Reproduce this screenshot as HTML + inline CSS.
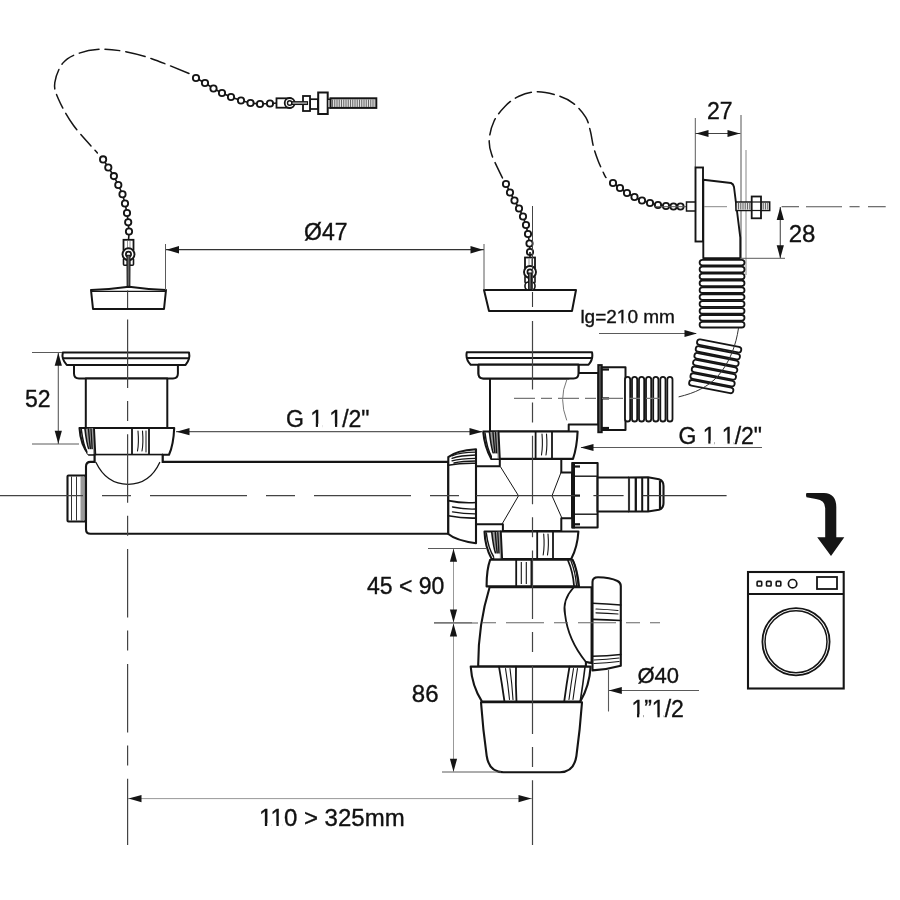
<!DOCTYPE html>
<html><head><meta charset="utf-8"><style>
html,body{margin:0;padding:0;background:#fff;}
svg{display:block;will-change:transform;}
text{font-family:"Liberation Sans",sans-serif;fill:#111;stroke:#111;stroke-width:0.35px;}
</style></head><body>
<svg width="900" height="900" viewBox="0 0 900 900">
<rect width="900" height="900" fill="#fff"/>
<path d="M189.0,73.5 C182.8,71.0 162.4,62.4 151.7,58.7 C141.0,55.1 133.3,53.2 125.0,51.6 C116.7,50.0 109.6,48.9 101.9,49.2 C94.2,49.5 85.3,51.0 78.8,53.3 C72.3,55.6 66.8,58.2 62.8,63.1 C58.8,68.0 55.5,76.8 54.8,82.7 C54.0,88.6 55.2,91.6 58.3,98.7 C61.4,105.8 66.9,116.3 73.4,125.3 C79.9,134.3 93.4,148.3 97.4,152.9" fill="none" stroke="#151515" stroke-width="1.5" stroke-linejoin="round" stroke-linecap="round" stroke-dasharray="20,6,15,6" stroke-linecap="butt"/>
<path d="M196.0,78.0 L205.0,83.0 L213.5,88.5 L222.0,93.0 L231.0,97.0 L241.0,100.5 L250.5,103.0 L260.0,104.0 L270.0,103.5" fill="none" stroke="#151515" stroke-width="1.6"/>
<circle cx="196.0" cy="78.0" r="3.15" fill="#fff" stroke="#151515" stroke-width="1.85"/>
<circle cx="205.0" cy="83.0" r="3.15" fill="#fff" stroke="#151515" stroke-width="1.85"/>
<circle cx="213.5" cy="88.5" r="3.15" fill="#fff" stroke="#151515" stroke-width="1.85"/>
<circle cx="222.0" cy="93.0" r="3.15" fill="#fff" stroke="#151515" stroke-width="1.85"/>
<circle cx="231.0" cy="97.0" r="3.15" fill="#fff" stroke="#151515" stroke-width="1.85"/>
<circle cx="241.0" cy="100.5" r="3.15" fill="#fff" stroke="#151515" stroke-width="1.85"/>
<circle cx="250.5" cy="103.0" r="3.15" fill="#fff" stroke="#151515" stroke-width="1.85"/>
<circle cx="260.0" cy="104.0" r="3.15" fill="#fff" stroke="#151515" stroke-width="1.85"/>
<circle cx="270.0" cy="103.5" r="3.15" fill="#fff" stroke="#151515" stroke-width="1.85"/>
<path d="M103.1,159.4 L108.3,167.5 L113.9,176.1 L118.3,185.0 L122.5,194.2 L125.0,203.5 L127.0,213.0 L128.2,222.3 L129.0,231.5" fill="none" stroke="#151515" stroke-width="1.6"/>
<circle cx="103.1" cy="159.4" r="3.15" fill="#fff" stroke="#151515" stroke-width="1.85"/>
<circle cx="108.3" cy="167.5" r="3.15" fill="#fff" stroke="#151515" stroke-width="1.85"/>
<circle cx="113.9" cy="176.1" r="3.15" fill="#fff" stroke="#151515" stroke-width="1.85"/>
<circle cx="118.3" cy="185.0" r="3.15" fill="#fff" stroke="#151515" stroke-width="1.85"/>
<circle cx="122.5" cy="194.2" r="3.15" fill="#fff" stroke="#151515" stroke-width="1.85"/>
<circle cx="125.0" cy="203.5" r="3.15" fill="#fff" stroke="#151515" stroke-width="1.85"/>
<circle cx="127.0" cy="213.0" r="3.15" fill="#fff" stroke="#151515" stroke-width="1.85"/>
<circle cx="128.2" cy="222.3" r="3.15" fill="#fff" stroke="#151515" stroke-width="1.85"/>
<circle cx="129.0" cy="231.5" r="3.15" fill="#fff" stroke="#151515" stroke-width="1.85"/>
<line x1="272" y1="103.5" x2="277" y2="103" stroke="#151515" stroke-width="1.6"/>
<rect x="276.5" y="98.3" width="14" height="9.4" fill="#fff" stroke="#151515" stroke-width="1.8"/>
<circle cx="289.7" cy="103" r="5" fill="#fff" stroke="#151515" stroke-width="1.8"/>
<circle cx="289.7" cy="103" r="2.2" fill="#fff" stroke="#151515" stroke-width="1.4"/>
<rect x="310" y="99.2" width="8" height="9.8" fill="#fff" stroke="#151515" stroke-width="1.7"/>
<rect x="303" y="96" width="7" height="15" fill="#fff" stroke="#151515" stroke-width="1.8"/>
<rect x="292" y="101.7" width="15.5" height="2.8" fill="#999" stroke="#151515" stroke-width="1.1"/>
<rect x="318.2" y="92.5" width="9.5" height="21.5" fill="#fff" stroke="#151515" stroke-width="2"/>
<rect x="327.7" y="99.3" width="3" height="8.6" fill="#fff" stroke="#151515" stroke-width="1.4"/>
<rect x="330.5" y="98.3" width="45.8" height="9.6" fill="#e0e0e0" stroke="#151515" stroke-width="2"/>
<line x1="332.50" y1="99.5" x2="332.50" y2="107" stroke="#666" stroke-width="1.0"/>
<line x1="334.75" y1="99.5" x2="334.75" y2="107" stroke="#666" stroke-width="1.0"/>
<line x1="337.00" y1="99.5" x2="337.00" y2="107" stroke="#666" stroke-width="1.0"/>
<line x1="339.25" y1="99.5" x2="339.25" y2="107" stroke="#666" stroke-width="1.0"/>
<line x1="341.50" y1="99.5" x2="341.50" y2="107" stroke="#666" stroke-width="1.0"/>
<line x1="343.75" y1="99.5" x2="343.75" y2="107" stroke="#666" stroke-width="1.0"/>
<line x1="346.00" y1="99.5" x2="346.00" y2="107" stroke="#666" stroke-width="1.0"/>
<line x1="348.25" y1="99.5" x2="348.25" y2="107" stroke="#666" stroke-width="1.0"/>
<line x1="350.50" y1="99.5" x2="350.50" y2="107" stroke="#666" stroke-width="1.0"/>
<line x1="352.75" y1="99.5" x2="352.75" y2="107" stroke="#666" stroke-width="1.0"/>
<line x1="355.00" y1="99.5" x2="355.00" y2="107" stroke="#666" stroke-width="1.0"/>
<line x1="357.25" y1="99.5" x2="357.25" y2="107" stroke="#666" stroke-width="1.0"/>
<line x1="359.50" y1="99.5" x2="359.50" y2="107" stroke="#666" stroke-width="1.0"/>
<line x1="361.75" y1="99.5" x2="361.75" y2="107" stroke="#666" stroke-width="1.0"/>
<line x1="364.00" y1="99.5" x2="364.00" y2="107" stroke="#666" stroke-width="1.0"/>
<line x1="366.25" y1="99.5" x2="366.25" y2="107" stroke="#666" stroke-width="1.0"/>
<line x1="368.50" y1="99.5" x2="368.50" y2="107" stroke="#666" stroke-width="1.0"/>
<line x1="370.75" y1="99.5" x2="370.75" y2="107" stroke="#666" stroke-width="1.0"/>
<line x1="373.00" y1="99.5" x2="373.00" y2="107" stroke="#666" stroke-width="1.0"/>
<line x1="375.25" y1="99.5" x2="375.25" y2="107" stroke="#666" stroke-width="1.0"/>
<line x1="129" y1="234" x2="128.5" y2="240" stroke="#151515" stroke-width="1.6"/>
<rect x="123.5" y="239.8" width="10" height="10" fill="#fff" stroke="#151515" stroke-width="1.8"/>
<line x1="127.5" y1="240.8" x2="127.5" y2="248.8" stroke="#777" stroke-width="0.8"/>
<line x1="130.0" y1="240.8" x2="130.0" y2="248.8" stroke="#777" stroke-width="0.8"/>
<rect x="123.5" y="258.3" width="4" height="7" rx="1" fill="#fff" stroke="#151515" stroke-width="1.6"/>
<rect x="129.5" y="258.3" width="4" height="7" rx="1" fill="#fff" stroke="#151515" stroke-width="1.6"/>
<circle cx="128.5" cy="254.3" r="6" fill="#fff" stroke="#151515" stroke-width="1.9"/>
<circle cx="128.5" cy="254.3" r="2.6" fill="#fff" stroke="#151515" stroke-width="1.7"/>
<path d="M127.0,255.3 L130.0,255.3 L129.8,287.5 L127.2,287.5 Z" fill="#666" stroke="#151515" stroke-width="1.1"/>
<path d="M91,290 Q110,289.5 129,286.8 Q148,289.5 166,290 L164,309 L93,309 Z" fill="#fff" stroke="#151515" stroke-width="2" stroke-linejoin="round"/>
<line x1="91" y1="291.3" x2="166" y2="291.3" stroke="#151515" stroke-width="1.3"/>
<path d="M502.5,178.0 C500.7,174.1 493.9,161.1 491.7,154.6 C489.5,148.1 488.9,144.7 489.3,139.1 C489.7,133.5 491.4,126.7 494.0,121.2 C496.6,115.8 500.8,110.6 504.9,106.4 C509.0,102.2 513.5,98.8 518.9,96.3 C524.3,93.8 531.0,91.8 537.5,91.7 C544.0,91.6 551.8,93.7 557.8,95.6 C563.8,97.5 568.6,99.7 573.3,103.3 C578.0,106.9 582.9,112.6 585.8,117.3 C588.6,122.0 589.1,126.4 590.4,131.3 C591.7,136.2 592.2,142.0 593.5,146.9 C594.8,151.8 596.4,156.2 598.2,160.9 C600.0,165.6 603.1,172.1 604.4,174.9 C605.7,177.7 605.7,177.1 606.0,177.5" fill="none" stroke="#151515" stroke-width="1.5" stroke-linejoin="round" stroke-linecap="round" stroke-dasharray="17,6" stroke-linecap="butt"/>
<path d="M506.0,184.0 L510.0,192.5 L514.5,200.5 L519.0,208.5 L523.0,216.5 L526.0,225.0 L528.0,234.0 L529.5,243.5 L530.0,252.0" fill="none" stroke="#151515" stroke-width="1.6"/>
<circle cx="506.0" cy="184.0" r="3.15" fill="#fff" stroke="#151515" stroke-width="1.85"/>
<circle cx="510.0" cy="192.5" r="3.15" fill="#fff" stroke="#151515" stroke-width="1.85"/>
<circle cx="514.5" cy="200.5" r="3.15" fill="#fff" stroke="#151515" stroke-width="1.85"/>
<circle cx="519.0" cy="208.5" r="3.15" fill="#fff" stroke="#151515" stroke-width="1.85"/>
<circle cx="523.0" cy="216.5" r="3.15" fill="#fff" stroke="#151515" stroke-width="1.85"/>
<circle cx="526.0" cy="225.0" r="3.15" fill="#fff" stroke="#151515" stroke-width="1.85"/>
<circle cx="528.0" cy="234.0" r="3.15" fill="#fff" stroke="#151515" stroke-width="1.85"/>
<circle cx="529.5" cy="243.5" r="3.15" fill="#fff" stroke="#151515" stroke-width="1.85"/>
<circle cx="530.0" cy="252.0" r="3.15" fill="#fff" stroke="#151515" stroke-width="1.85"/>
<line x1="530" y1="252" x2="530" y2="258" stroke="#151515" stroke-width="1.6"/>
<rect x="525" y="257.5" width="10" height="10" fill="#fff" stroke="#151515" stroke-width="1.8"/>
<line x1="529" y1="258.5" x2="529" y2="266.5" stroke="#777" stroke-width="0.8"/>
<line x1="531.5" y1="258.5" x2="531.5" y2="266.5" stroke="#777" stroke-width="0.8"/>
<rect x="525" y="276.0" width="4" height="7" rx="1" fill="#fff" stroke="#151515" stroke-width="1.6"/>
<rect x="531" y="276.0" width="4" height="7" rx="1" fill="#fff" stroke="#151515" stroke-width="1.6"/>
<circle cx="530" cy="272.0" r="6" fill="#fff" stroke="#151515" stroke-width="1.9"/>
<circle cx="530" cy="272.0" r="2.6" fill="#fff" stroke="#151515" stroke-width="1.7"/>
<rect x="525" y="282" width="10" height="8" rx="3.5" fill="#fff" stroke="#151515" stroke-width="1.6"/>
<path d="M528.5,273.0 L531.5,273.0 L531.3,290 L528.7,290 Z" fill="#666" stroke="#151515" stroke-width="1.1"/>
<path d="M484,290 L576,290 L572,311 L489,311 Z" fill="#fff" stroke="#151515" stroke-width="2" stroke-linejoin="round"/>
<path d="M613.0,183.0 L620.0,188.0 L627.0,193.0 L634.5,197.0 L642.0,200.5 L650.0,203.0 L658.0,205.0 L666.0,206.0 L673.5,206.5 L680.5,206.5" fill="none" stroke="#151515" stroke-width="1.6"/>
<circle cx="613.0" cy="183.0" r="3.15" fill="#fff" stroke="#151515" stroke-width="1.85"/>
<circle cx="620.0" cy="188.0" r="3.15" fill="#fff" stroke="#151515" stroke-width="1.85"/>
<circle cx="627.0" cy="193.0" r="3.15" fill="#fff" stroke="#151515" stroke-width="1.85"/>
<circle cx="634.5" cy="197.0" r="3.15" fill="#fff" stroke="#151515" stroke-width="1.85"/>
<circle cx="642.0" cy="200.5" r="3.15" fill="#fff" stroke="#151515" stroke-width="1.85"/>
<circle cx="650.0" cy="203.0" r="3.15" fill="#fff" stroke="#151515" stroke-width="1.85"/>
<circle cx="658.0" cy="205.0" r="3.15" fill="#fff" stroke="#151515" stroke-width="1.85"/>
<circle cx="666.0" cy="206.0" r="3.15" fill="#fff" stroke="#151515" stroke-width="1.85"/>
<circle cx="673.5" cy="206.5" r="3.15" fill="#fff" stroke="#151515" stroke-width="1.85"/>
<circle cx="680.5" cy="206.5" r="3.15" fill="#fff" stroke="#151515" stroke-width="1.85"/>
<line x1="165" y1="249.7" x2="484" y2="249.7" stroke="#333" stroke-width="1.2"/>
<line x1="165.5" y1="244" x2="165.5" y2="290" stroke="#5a5a5a" stroke-width="1.0"/>
<line x1="484" y1="244" x2="484" y2="290" stroke="#5a5a5a" stroke-width="1.0"/>
<path d="M166.50,249.70 L179.00,246.00 L179.00,253.40 Z" fill="#151515"/>
<path d="M483.00,249.70 L470.50,253.40 L470.50,246.00 Z" fill="#151515"/>
<text x="304" y="240" font-size="23" text-anchor="start">Ø47</text>
<line x1="655" y1="206.7" x2="686" y2="206.7" stroke="#555" stroke-width="1.0"/>
<line x1="741" y1="115" x2="741" y2="258" stroke="#555" stroke-width="1.0"/>
<line x1="746" y1="150" x2="746" y2="275" stroke="#888" stroke-width="1.0"/>
<line x1="695.3" y1="118" x2="695.3" y2="167" stroke="#5a5a5a" stroke-width="1.0"/>
<rect x="695.5" y="167.5" width="7.5" height="74" fill="#fff" stroke="#151515" stroke-width="1.9"/>
<rect x="686.5" y="202" width="8.8" height="9" fill="#fff" stroke="#151515" stroke-width="1.5"/>
<path d="M703.3,179.7 L731,183 Q733.5,184 734,187 L740.3,237.7 L740.3,258.3 L703.3,258.3 Z" fill="#fff" stroke="#151515" stroke-width="1.9" stroke-linejoin="round"/>
<rect x="736" y="202" width="33.7" height="8.5" fill="#fff" stroke="#151515" stroke-width="1.5"/>
<rect x="737" y="203" width="31.7" height="6.5" fill="#e0e0e0"/>
<line x1="738.50" y1="203" x2="738.50" y2="209.5" stroke="#666" stroke-width="1.0"/>
<line x1="740.75" y1="203" x2="740.75" y2="209.5" stroke="#666" stroke-width="1.0"/>
<line x1="743.00" y1="203" x2="743.00" y2="209.5" stroke="#666" stroke-width="1.0"/>
<line x1="745.25" y1="203" x2="745.25" y2="209.5" stroke="#666" stroke-width="1.0"/>
<line x1="747.50" y1="203" x2="747.50" y2="209.5" stroke="#666" stroke-width="1.0"/>
<line x1="749.75" y1="203" x2="749.75" y2="209.5" stroke="#666" stroke-width="1.0"/>
<line x1="752.00" y1="203" x2="752.00" y2="209.5" stroke="#666" stroke-width="1.0"/>
<line x1="754.25" y1="203" x2="754.25" y2="209.5" stroke="#666" stroke-width="1.0"/>
<line x1="756.50" y1="203" x2="756.50" y2="209.5" stroke="#666" stroke-width="1.0"/>
<line x1="758.75" y1="203" x2="758.75" y2="209.5" stroke="#666" stroke-width="1.0"/>
<line x1="761.00" y1="203" x2="761.00" y2="209.5" stroke="#666" stroke-width="1.0"/>
<line x1="763.25" y1="203" x2="763.25" y2="209.5" stroke="#666" stroke-width="1.0"/>
<line x1="765.50" y1="203" x2="765.50" y2="209.5" stroke="#666" stroke-width="1.0"/>
<line x1="767.75" y1="203" x2="767.75" y2="209.5" stroke="#666" stroke-width="1.0"/>
<rect x="751.7" y="196.5" width="9.3" height="21.8" fill="#fff" stroke="#151515" stroke-width="1.8"/>
<line x1="752" y1="202" x2="761" y2="202" stroke="#151515" stroke-width="1.2"/>
<line x1="752" y1="210.5" x2="761" y2="210.5" stroke="#151515" stroke-width="1.2"/>
<line x1="781.6" y1="206.7" x2="799" y2="206.7" stroke="#555" stroke-width="1.1"/>
<line x1="806" y1="206.7" x2="842" y2="206.7" stroke="#555" stroke-width="1.1"/>
<line x1="849.5" y1="206.7" x2="859.6" y2="206.7" stroke="#555" stroke-width="1.1"/>
<line x1="868" y1="206.7" x2="885.7" y2="206.7" stroke="#555" stroke-width="1.1"/>
<line x1="704" y1="206.7" x2="727" y2="206.7" stroke="#888" stroke-width="1.0"/>
<line x1="695.3" y1="133.5" x2="740.5" y2="133.5" stroke="#444" stroke-width="1.2"/>
<path d="M696.00,133.50 L708.50,129.90 L708.50,137.10 Z" fill="#151515"/>
<path d="M740.00,133.50 L727.50,137.10 L727.50,129.90 Z" fill="#151515"/>
<text x="707" y="118.7" font-size="23" text-anchor="start">27</text>
<line x1="780.3" y1="207" x2="780.3" y2="258" stroke="#5a5a5a" stroke-width="1.2"/>
<path d="M780.30,207.00 L783.90,220.00 L776.70,220.00 Z" fill="#151515"/>
<path d="M780.30,258.30 L776.70,245.30 L783.90,245.30 Z" fill="#151515"/>
<line x1="740" y1="258.3" x2="785" y2="258.3" stroke="#5a5a5a" stroke-width="1.0"/>
<text x="788.7" y="242" font-size="24" text-anchor="start">28</text>
<rect x="699.6" y="259.80" width="44.9" height="5.6" rx="2.8" fill="#fff" stroke="#151515" stroke-width="1.8"/>
<rect x="699.6" y="266.70" width="44.9" height="5.6" rx="2.8" fill="#fff" stroke="#151515" stroke-width="1.8"/>
<rect x="699.6" y="273.60" width="44.9" height="5.6" rx="2.8" fill="#fff" stroke="#151515" stroke-width="1.8"/>
<rect x="699.6" y="280.50" width="44.9" height="5.6" rx="2.8" fill="#fff" stroke="#151515" stroke-width="1.8"/>
<rect x="699.6" y="287.40" width="44.9" height="5.6" rx="2.8" fill="#fff" stroke="#151515" stroke-width="1.8"/>
<rect x="699.6" y="294.30" width="44.9" height="5.6" rx="2.8" fill="#fff" stroke="#151515" stroke-width="1.8"/>
<rect x="699.6" y="301.20" width="44.9" height="5.6" rx="2.8" fill="#fff" stroke="#151515" stroke-width="1.8"/>
<rect x="699.6" y="308.10" width="44.9" height="5.6" rx="2.8" fill="#fff" stroke="#151515" stroke-width="1.8"/>
<rect x="699.6" y="315.00" width="44.9" height="5.6" rx="2.8" fill="#fff" stroke="#151515" stroke-width="1.8"/>
<rect x="699.6" y="321.90" width="44.9" height="5.6" rx="2.8" fill="#fff" stroke="#151515" stroke-width="1.8"/>
<g transform="translate(715.2,366.3) rotate(11)">
<rect x="-22.5" y="-23.50" width="45" height="5.6" rx="2.8" fill="#fff" stroke="#151515" stroke-width="1.8"/>
<rect x="-22.5" y="-16.60" width="45" height="5.6" rx="2.8" fill="#fff" stroke="#151515" stroke-width="1.8"/>
<rect x="-22.5" y="-9.70" width="45" height="5.6" rx="2.8" fill="#fff" stroke="#151515" stroke-width="1.8"/>
<rect x="-22.5" y="-2.80" width="45" height="5.6" rx="2.8" fill="#fff" stroke="#151515" stroke-width="1.8"/>
<rect x="-22.5" y="4.10" width="45" height="5.6" rx="2.8" fill="#fff" stroke="#151515" stroke-width="1.8"/>
<rect x="-22.5" y="11.00" width="45" height="5.6" rx="2.8" fill="#fff" stroke="#151515" stroke-width="1.8"/>
<rect x="-22.5" y="17.90" width="45" height="5.6" rx="2.8" fill="#fff" stroke="#151515" stroke-width="1.8"/>
</g>
<path d="M738.5,328.3 C736,345 730,362 718,376 C708,387 695,393 679,396.8" fill="none" stroke="#333" stroke-width="1.0" stroke-linejoin="round" stroke-linecap="round"/>
<text x="580.4" y="323.3" font-size="19" text-anchor="start">lg=210 mm</text>
<line x1="599" y1="333.5" x2="696" y2="333.5" stroke="#5a5a5a" stroke-width="1.2"/>
<path d="M697.00,333.50 L684.50,337.10 L684.50,329.90 Z" fill="#151515"/>
<path d="M62.8,352.5 L189,352.5 Q190.5,359 185.6,364.9 L66.7,364.9 Q61.3,359 62.8,352.5 Z" fill="#fff" stroke="#151515" stroke-width="2" stroke-linejoin="round"/>
<line x1="63" y1="358.2" x2="189.5" y2="358.2" stroke="#151515" stroke-width="2.0"/>
<path d="M74,364.9 L177.9,364.9 L177.9,373.5 Q177.9,378.4 173,378.4 L79,378.4 Q74,378.4 74,373.5 Z" fill="#fff" stroke="#151515" stroke-width="2" stroke-linejoin="round"/>
<path d="M85.8,378.4 L167.3,378.4 L167.3,428 L85.8,428 Z" fill="#fff" stroke="#151515" stroke-width="2" stroke-linejoin="round"/>
<path d="M79.5,428 L174.2,428 Q173.5,445 169,454.7 L89,454.7 Q80.5,445 79.5,428 Z" fill="#fff" stroke="#151515" stroke-width="2.1" stroke-linejoin="round"/>
<path d="M85,429 Q86.5,442.685 92,453.7 L95.4,454.7 Q94.6,441.35 94,428 Z" fill="#9a9a9a"/>
<path d="M81.3,429.5 Q83.0,444.02 87.5,453.7" fill="none" stroke="#151515" stroke-width="1.5" stroke-linejoin="round" stroke-linecap="round"/>
<path d="M85,429 Q86.5,442.685 89,449.7" fill="none" stroke="#151515" stroke-width="1.6" stroke-linejoin="round" stroke-linecap="round"/>
<path d="M88.5,429 Q89.5,441.35 90.5,449.7" fill="none" stroke="#151515" stroke-width="1.4" stroke-linejoin="round" stroke-linecap="round"/>
<path d="M91,429 Q91.8,441.35 92.2,449.7" fill="none" stroke="#151515" stroke-width="1.3" stroke-linejoin="round" stroke-linecap="round"/>
<rect x="87.5" y="449.2" width="5.5" height="5" fill="#fff"/>
<path d="M94,428 Q94.6,441.35 95.4,456.2" fill="none" stroke="#151515" stroke-width="1.9" stroke-linejoin="round" stroke-linecap="round"/>
<line x1="132" y1="428" x2="132" y2="454.7" stroke="#151515" stroke-width="1.8"/>
<line x1="149" y1="428" x2="149" y2="454.7" stroke="#151515" stroke-width="1.8"/>
<path d="M138,431 Q139,443 137.5,451" fill="none" stroke="#151515" stroke-width="1.1" stroke-linejoin="round" stroke-linecap="round"/>
<path d="M142.5,431 Q143.5,443 142,451" fill="none" stroke="#151515" stroke-width="1.1" stroke-linejoin="round" stroke-linecap="round"/>
<path d="M146,431 L146,452" fill="none" stroke="#151515" stroke-width="1.0" stroke-linejoin="round" stroke-linecap="round"/>
<path d="M94.7,461.9 L90.5,461.9 Q86,461.9 86,466.5 L86,529.2 Q86,533.8 90.5,533.8 L448.3,533.8 L448.3,461.9 L162.6,461.9" fill="#fff" stroke="#151515" stroke-width="2.1" stroke-linejoin="round"/>
<path d="M94.7,454.7 L94.7,461.9 M162.6,454.7 L162.6,461.9" fill="none" stroke="#151515" stroke-width="2.0" stroke-linejoin="round" stroke-linecap="round"/>
<path d="M95,455.5 L162.4,455.5 L162.4,462 L95,462 Z" fill="#fff"/>
<path d="M94.7,454.7 L94.7,461.9 M162.6,454.7 L162.6,461.9" fill="none" stroke="#151515" stroke-width="2.0" stroke-linejoin="round" stroke-linecap="round"/>
<path d="M96,462.5 C103,477 114,484.3 128,484.3 C142,484.3 153,477 159.7,462.5" fill="none" stroke="#151515" stroke-width="1.3" stroke-linejoin="round" stroke-linecap="round"/>
<path d="M67.5,476.5 Q67.5,475.5 68.5,475.5 L85.5,475.5 L85.5,521.5 L68.5,521.5 Q67.5,521.5 67.5,520.5 Z" fill="#fff" stroke="#151515" stroke-width="2.1" stroke-linejoin="round"/>
<line x1="71.5" y1="476.5" x2="71.5" y2="520.5" stroke="#333" stroke-width="1.0"/>
<line x1="76.5" y1="476.5" x2="76.5" y2="520.5" stroke="#333" stroke-width="1.0"/>
<line x1="82" y1="476.5" x2="82" y2="520.5" stroke="#333" stroke-width="1.0"/>
<rect x="80.5" y="477" width="4" height="43" fill="#999"/>
<path d="M466.8,352.3 L592,352.3 Q593.5,359 588.6,364.7 L470.7,364.7 Q465.3,359 466.8,352.3 Z" fill="#fff" stroke="#151515" stroke-width="2" stroke-linejoin="round"/>
<line x1="467" y1="358" x2="592.5" y2="358" stroke="#151515" stroke-width="2.0"/>
<path d="M478.5,364.7 L578.5,364.7 L578.5,373.5 Q578.5,378.4 573.6,378.4 L483.4,378.4 Q478.5,378.4 478.5,373.5 Z" fill="#fff" stroke="#151515" stroke-width="2" stroke-linejoin="round"/>
<path d="M490,378.4 L568.7,378.4 L568.7,373 L598.4,373 L598.4,424.4 L568.7,424.4 L568.7,431.5 L490,431.5 Z" fill="#fff" stroke="#151515" stroke-width="2" stroke-linejoin="round"/>
<path d="M478.5,364.7 L578.5,364.7 L578.5,373.5 Q578.5,378.4 573.6,378.4 L483.4,378.4 Q478.5,378.4 478.5,373.5 Z" fill="#fff" stroke="#151515" stroke-width="2" stroke-linejoin="round"/>
<path d="M566.6,380.3 Q558.5,399 566.6,420" fill="none" stroke="#777" stroke-width="1.0" stroke-linejoin="round" stroke-linecap="round"/>
<rect x="598.2" y="365" width="3.6" height="67.3" fill="#555" stroke="#151515" stroke-width="1.8"/>
<path d="M601.8,367.3 L625.5,367.3 L625.5,430.1 L601.8,430.1 Z" fill="#fff" stroke="#151515" stroke-width="2" stroke-linejoin="round"/>
<line x1="602" y1="369.5" x2="609" y2="369.5" stroke="#151515" stroke-width="2.2"/>
<line x1="602" y1="398.4" x2="609" y2="398.4" stroke="#151515" stroke-width="2.2"/>
<line x1="602" y1="428" x2="609" y2="428" stroke="#151515" stroke-width="2.2"/>
<rect x="625.0" y="376.8" width="5.2" height="44.7" rx="2.6" fill="#fff" stroke="#151515" stroke-width="1.8"/>
<rect x="632.0" y="376.8" width="5.2" height="44.7" rx="2.6" fill="#fff" stroke="#151515" stroke-width="1.8"/>
<rect x="639.0" y="376.8" width="5.2" height="44.7" rx="2.6" fill="#fff" stroke="#151515" stroke-width="1.8"/>
<rect x="646.0" y="376.8" width="5.2" height="44.7" rx="2.6" fill="#fff" stroke="#151515" stroke-width="1.8"/>
<rect x="653.2" y="376.8" width="5.2" height="44.7" rx="2.6" fill="#fff" stroke="#151515" stroke-width="1.8"/>
<rect x="660.3" y="376.8" width="5.2" height="44.7" rx="2.6" fill="#fff" stroke="#151515" stroke-width="1.8"/>
<rect x="667.3" y="376.8" width="5.2" height="44.7" rx="2.6" fill="#fff" stroke="#151515" stroke-width="1.8"/>
<path d="M483.2,431.5 L577.6,431.5 Q577,447 573,458.9 L491.3,458.9 Q484.5,447 483.2,431.5 Z" fill="#fff" stroke="#151515" stroke-width="2.1" stroke-linejoin="round"/>
<path d="M489.5,432.5 Q491.0,446.57 496.5,457.9 L499.9,458.9 Q499.1,445.2 498.5,431.5 Z" fill="#9a9a9a"/>
<path d="M485.0,433.0 Q486.7,447.94 492.0,457.9" fill="none" stroke="#151515" stroke-width="1.5" stroke-linejoin="round" stroke-linecap="round"/>
<path d="M489.5,432.5 Q491.0,446.57 493.5,453.9" fill="none" stroke="#151515" stroke-width="1.6" stroke-linejoin="round" stroke-linecap="round"/>
<path d="M493.0,432.5 Q494.0,445.2 495.0,453.9" fill="none" stroke="#151515" stroke-width="1.4" stroke-linejoin="round" stroke-linecap="round"/>
<path d="M495.5,432.5 Q496.3,445.2 496.7,453.9" fill="none" stroke="#151515" stroke-width="1.3" stroke-linejoin="round" stroke-linecap="round"/>
<rect x="492.0" y="453.4" width="5.5" height="5" fill="#fff"/>
<path d="M498.5,431.5 Q499.1,445.2 499.9,460.4" fill="none" stroke="#151515" stroke-width="1.9" stroke-linejoin="round" stroke-linecap="round"/>
<line x1="535.6" y1="431.5" x2="535.6" y2="458.9" stroke="#151515" stroke-width="1.8"/>
<line x1="552" y1="431.5" x2="552" y2="458.9" stroke="#151515" stroke-width="1.8"/>
<path d="M542,434 Q543,446 541.5,455" fill="none" stroke="#151515" stroke-width="1.1" stroke-linejoin="round" stroke-linecap="round"/>
<path d="M546.5,434 Q547.5,446 546,455" fill="none" stroke="#151515" stroke-width="1.1" stroke-linejoin="round" stroke-linecap="round"/>
<path d="M476,466.3 L499.8,466.3 L499.8,458.9 L561.3,458.9 L561.3,472.4 L572,472.4 L572,518.3 L561.3,518.3 L561.3,531 L502.9,531 L502.9,524.2 L476,524.2 Z" fill="#fff" stroke="#151515" stroke-width="2" stroke-linejoin="round"/>
<path d="M500.6,467 L518.5,495.8 L502.2,523.8" fill="none" stroke="#151515" stroke-width="1.0" stroke-linejoin="round" stroke-linecap="round"/>
<path d="M561.3,471.7 L552,495.8 L562,518.3" fill="none" stroke="#151515" stroke-width="1.0" stroke-linejoin="round" stroke-linecap="round"/>
<path d="M448.3,457.1 Q456,450.5 476,449.2 L476,543.2 Q456,540.5 448.3,534 Z" fill="#fff" stroke="#151515" stroke-width="2.1" stroke-linejoin="round"/>
<path d="M452,455.8 Q460,452.5 476,452.2" fill="none" stroke="#151515" stroke-width="1.3" stroke-linejoin="round" stroke-linecap="round"/>
<path d="M452,458.3 Q460,455.5 476,455" fill="none" stroke="#151515" stroke-width="1.3" stroke-linejoin="round" stroke-linecap="round"/>
<path d="M452,460.8 Q460,458.5 476,458.3" fill="none" stroke="#151515" stroke-width="1.3" stroke-linejoin="round" stroke-linecap="round"/>
<path d="M454,463 Q462,461 476,461" fill="none" stroke="#151515" stroke-width="1.3" stroke-linejoin="round" stroke-linecap="round"/>
<path d="M448.3,465.3 Q460,463 476,463.3" fill="none" stroke="#151515" stroke-width="1.6" stroke-linejoin="round" stroke-linecap="round"/>
<path d="M448.3,500.6 Q462,503.5 476,502.5" fill="none" stroke="#151515" stroke-width="1.6" stroke-linejoin="round" stroke-linecap="round"/>
<path d="M452.5,507 Q464,509.5 476,509" fill="none" stroke="#151515" stroke-width="1.3" stroke-linejoin="round" stroke-linecap="round"/>
<path d="M452.5,511.8 Q464,514 476,513.9" fill="none" stroke="#151515" stroke-width="1.3" stroke-linejoin="round" stroke-linecap="round"/>
<path d="M448.3,515.7 Q462,518.5 476,518.1" fill="none" stroke="#151515" stroke-width="1.6" stroke-linejoin="round" stroke-linecap="round"/>
<path d="M572.5,463 L597.6,463 L597.6,527.5 L572.5,527.5 Z" fill="#fff" stroke="#151515" stroke-width="2.1" stroke-linejoin="round"/>
<line x1="573.2" y1="462.3" x2="573.2" y2="528.4" stroke="#151515" stroke-width="3.6"/>
<line x1="574" y1="476.2" x2="597.6" y2="476.2" stroke="#151515" stroke-width="1.4"/>
<line x1="574" y1="514.2" x2="597.6" y2="514.2" stroke="#151515" stroke-width="1.4"/>
<line x1="574" y1="466.5" x2="580" y2="466.5" stroke="#151515" stroke-width="2.2"/>
<line x1="574" y1="495.6" x2="580" y2="495.6" stroke="#151515" stroke-width="2.2"/>
<line x1="574" y1="524.3" x2="580" y2="524.3" stroke="#151515" stroke-width="2.2"/>
<path d="M629,477.5 L597.6,477.5 L597.6,511.5 L629,511.5" fill="#fff" stroke="#151515" stroke-width="2.1" stroke-linejoin="round"/>
<path d="M629,477.5 L648,477.3 L659,479.3 Q663.5,480.5 663.5,486 L663.5,503 Q663.5,508.5 659,509.7 L648,511.5 L629,511.5 Z" fill="#fff" stroke="#151515" stroke-width="2.1" stroke-linejoin="round"/>
<line x1="635.8" y1="478" x2="635.8" y2="511" stroke="#151515" stroke-width="2.3"/>
<line x1="642.2" y1="478" x2="642.2" y2="511" stroke="#151515" stroke-width="2.0"/>
<line x1="648.2" y1="478" x2="648.2" y2="511" stroke="#151515" stroke-width="2.0"/>
<line x1="660" y1="480.5" x2="660" y2="509" stroke="#151515" stroke-width="2.2"/>
<line x1="629" y1="478" x2="629" y2="511" stroke="#555" stroke-width="1.0"/>
<path d="M489.6,587.3 L591.6,587.3 L591.6,663 L585.9,662 L585.9,666.6 L478.2,666.6 Q478,625 489.6,587.3 Z" fill="#fff" stroke="#151515" stroke-width="2.1" stroke-linejoin="round"/>
<path d="M573.6,587.5 Q562,600 565.1,614.7 Q568,640 585.9,662" fill="none" stroke="#151515" stroke-width="1.8" stroke-linejoin="round" stroke-linecap="round"/>
<path d="M585.9,662 L591.6,663" fill="none" stroke="#151515" stroke-width="1.5" stroke-linejoin="round" stroke-linecap="round"/>
<path d="M484.5,531.5 L578.4,531.5 Q577.5,547 571.2,559 L491.7,559 Q485,547 484.5,531.5 Z" fill="#fff" stroke="#151515" stroke-width="2.1" stroke-linejoin="round"/>
<path d="M491.8,532.5 Q493.3,546.625 498.8,558 L502.2,559 Q501.40000000000003,545.25 500.8,531.5 Z" fill="#9a9a9a"/>
<path d="M486.3,533.0 Q488.0,548.0 494.3,558" fill="none" stroke="#151515" stroke-width="1.5" stroke-linejoin="round" stroke-linecap="round"/>
<path d="M491.8,532.5 Q493.3,546.625 495.8,554" fill="none" stroke="#151515" stroke-width="1.6" stroke-linejoin="round" stroke-linecap="round"/>
<path d="M495.3,532.5 Q496.3,545.25 497.3,554" fill="none" stroke="#151515" stroke-width="1.4" stroke-linejoin="round" stroke-linecap="round"/>
<path d="M497.8,532.5 Q498.6,545.25 499.0,554" fill="none" stroke="#151515" stroke-width="1.3" stroke-linejoin="round" stroke-linecap="round"/>
<rect x="494.3" y="553.5" width="5.5" height="5" fill="#fff"/>
<path d="M500.8,531.5 Q501.40000000000003,545.25 502.2,560.5" fill="none" stroke="#151515" stroke-width="1.9" stroke-linejoin="round" stroke-linecap="round"/>
<line x1="537.2" y1="531.5" x2="537.2" y2="559" stroke="#151515" stroke-width="1.8"/>
<line x1="553" y1="531.5" x2="553" y2="559" stroke="#151515" stroke-width="1.8"/>
<path d="M543.7,534 Q544.7,546 543.2,555" fill="none" stroke="#151515" stroke-width="1.1" stroke-linejoin="round" stroke-linecap="round"/>
<path d="M548,534 Q549,546 547.5,555" fill="none" stroke="#151515" stroke-width="1.1" stroke-linejoin="round" stroke-linecap="round"/>
<path d="M490.2,559.7 L572.6,559.7 Q577.5,570 579,586.4 L486.6,586.4 Q486.5,570 490.2,559.7 Z" fill="#fff" stroke="#151515" stroke-width="2.1" stroke-linejoin="round"/>
<line x1="516.2" y1="559.7" x2="516.2" y2="586.4" stroke="#151515" stroke-width="1.8"/>
<line x1="531.4" y1="559.7" x2="531.4" y2="586.4" stroke="#151515" stroke-width="1.8"/>
<line x1="521.3" y1="562" x2="521.3" y2="584" stroke="#151515" stroke-width="1.1"/>
<line x1="526.3" y1="562" x2="526.3" y2="584" stroke="#151515" stroke-width="1.1"/>
<path d="M568,560.5 Q573,572 574,585.5" fill="none" stroke="#151515" stroke-width="1.8" stroke-linejoin="round" stroke-linecap="round"/>
<path d="M571,561 Q575.5,572 576.5,585.5" fill="none" stroke="#151515" stroke-width="1.3" stroke-linejoin="round" stroke-linecap="round"/>
<path d="M574,562 Q577,572 578,585" fill="none" stroke="#151515" stroke-width="1.1" stroke-linejoin="round" stroke-linecap="round"/>
<path d="M592.5,670.4 L592.5,582 Q592.5,577.3 598,577.3 Q610,577.5 617.5,581 Q620.8,582.5 620.8,586 L620.8,665.7 Q607,669.5 592.5,670.4 Z" fill="#fff" stroke="#151515" stroke-width="2.1" stroke-linejoin="round"/>
<path d="M592.5,603.3 Q607,603.8 620.8,605" fill="none" stroke="#151515" stroke-width="1.6" stroke-linejoin="round" stroke-linecap="round"/>
<path d="M596,609 Q608,609.5 618,610.5" fill="none" stroke="#151515" stroke-width="1.2" stroke-linejoin="round" stroke-linecap="round"/>
<path d="M596,612.8 Q608,613.3 618,614" fill="none" stroke="#151515" stroke-width="1.2" stroke-linejoin="round" stroke-linecap="round"/>
<path d="M592.5,619.4 Q607,619.8 620.8,620.5" fill="none" stroke="#151515" stroke-width="1.6" stroke-linejoin="round" stroke-linecap="round"/>
<path d="M592.5,656.2 Q607,656 620.8,654.5" fill="none" stroke="#151515" stroke-width="1.6" stroke-linejoin="round" stroke-linecap="round"/>
<path d="M594,660 Q607,659.5 619,658" fill="none" stroke="#151515" stroke-width="1.2" stroke-linejoin="round" stroke-linecap="round"/>
<path d="M594,663.5 Q607,663 619,661.5" fill="none" stroke="#151515" stroke-width="1.2" stroke-linejoin="round" stroke-linecap="round"/>
<path d="M470.7,666.6 L590.6,666.6 Q589.5,686 580.2,701.6 L482,701.6 Q472,686 470.7,666.6 Z" fill="#fff" stroke="#151515" stroke-width="2.1" stroke-linejoin="round"/>
<path d="M499,666.6 Q502,684 504.5,701.6" fill="none" stroke="#151515" stroke-width="1.8" stroke-linejoin="round" stroke-linecap="round"/>
<path d="M516,666.6 Q515.5,684 516.5,701.6" fill="none" stroke="#151515" stroke-width="1.8" stroke-linejoin="round" stroke-linecap="round"/>
<path d="M505.5,668.5 Q508,684 509.5,699.5" fill="none" stroke="#151515" stroke-width="1.1" stroke-linejoin="round" stroke-linecap="round"/>
<path d="M510,668.5 Q512,684 513,699.5" fill="none" stroke="#151515" stroke-width="1.1" stroke-linejoin="round" stroke-linecap="round"/>
<path d="M564.2,701.6 Q566.5,684 569.5,666.6" fill="none" stroke="#151515" stroke-width="1.8" stroke-linejoin="round" stroke-linecap="round"/>
<path d="M580.2,701.6 Q583,684 585,667" fill="none" stroke="#151515" stroke-width="1.6" stroke-linejoin="round" stroke-linecap="round"/>
<path d="M569,699.5 Q571,684 573.5,668.5" fill="none" stroke="#151515" stroke-width="1.1" stroke-linejoin="round" stroke-linecap="round"/>
<path d="M573,699.5 Q575,684 577.5,668.5" fill="none" stroke="#151515" stroke-width="1.1" stroke-linejoin="round" stroke-linecap="round"/>
<path d="M481,702.3 L582,702.3 Q580,730 576.4,756 Q574,772.2 560,772.2 L503.5,772.2 Q489,772.2 486.7,756 Q483,730 481,702.3 Z" fill="#fff" stroke="#151515" stroke-width="2.1" stroke-linejoin="round"/>
<line x1="32" y1="352.5" x2="62" y2="352.5" stroke="#5a5a5a" stroke-width="1.0"/>
<line x1="32" y1="444" x2="79" y2="444" stroke="#5a5a5a" stroke-width="1.0"/>
<line x1="58.3" y1="353" x2="58.3" y2="444" stroke="#5a5a5a" stroke-width="1.1"/>
<path d="M58.30,352.80 L61.90,365.80 L54.70,365.80 Z" fill="#151515"/>
<path d="M58.30,443.80 L54.70,430.80 L61.90,430.80 Z" fill="#151515"/>
<text x="25" y="407.1" font-size="23" text-anchor="start">52</text>
<line x1="176" y1="431.7" x2="483" y2="431.7" stroke="#5a5a5a" stroke-width="1.2"/>
<path d="M176.50,431.70 L189.50,428.10 L189.50,435.30 Z" fill="#151515"/>
<path d="M482.50,431.70 L469.50,435.30 L469.50,428.10 Z" fill="#151515"/>
<text x="285.9" y="426.9" font-size="23" text-anchor="start">G 1 1/2"</text>
<line x1="581" y1="447.5" x2="762" y2="447.5" stroke="#5a5a5a" stroke-width="1.2"/>
<path d="M580.50,447.50 L593.50,443.90 L593.50,451.10 Z" fill="#151515"/>
<text x="678.4" y="443.6" font-size="23" text-anchor="start">G 1 1/2"</text>
<line x1="428" y1="548.5" x2="486" y2="548.5" stroke="#5a5a5a" stroke-width="1.0"/>
<line x1="434" y1="623" x2="478" y2="623" stroke="#5a5a5a" stroke-width="1.0"/>
<line x1="442" y1="772" x2="501" y2="772" stroke="#5a5a5a" stroke-width="1.0"/>
<line x1="453.5" y1="549" x2="453.5" y2="772" stroke="#999" stroke-width="1.0"/>
<path d="M453.50,548.80 L457.10,561.80 L449.90,561.80 Z" fill="#151515"/>
<path d="M453.50,622.50 L449.90,609.50 L457.10,609.50 Z" fill="#151515"/>
<path d="M453.50,623.50 L457.10,636.50 L449.90,636.50 Z" fill="#151515"/>
<path d="M453.50,771.80 L449.90,758.80 L457.10,758.80 Z" fill="#151515"/>
<text x="367" y="594" font-size="23" text-anchor="start">45 &lt; 90</text>
<text x="411.8" y="701.7" font-size="24" text-anchor="start">86</text>
<line x1="608.5" y1="670" x2="608.5" y2="711.5" stroke="#5a5a5a" stroke-width="1.1"/>
<line x1="608.5" y1="690.5" x2="699" y2="690.5" stroke="#5a5a5a" stroke-width="1.2"/>
<path d="M608.80,690.50 L621.80,686.90 L621.80,694.10 Z" fill="#151515"/>
<text x="637.4" y="682.5" font-size="22" text-anchor="start">Ø40</text>
<text x="631.4" y="717.3" font-size="23" text-anchor="start">1”1/2</text>
<line x1="128" y1="798.6" x2="532" y2="798.6" stroke="#999" stroke-width="1.0"/>
<path d="M128.50,798.60 L141.50,795.00 L141.50,802.20 Z" fill="#151515"/>
<path d="M531.50,798.60 L518.50,802.20 L518.50,795.00 Z" fill="#151515"/>
<text x="259" y="826" font-size="24" text-anchor="start">110 &gt; 325mm</text>
<rect x="748" y="572" width="95.7" height="116.5" fill="#fff" stroke="#151515" stroke-width="2.1"/>
<line x1="748" y1="594" x2="843.7" y2="594" stroke="#151515" stroke-width="2.1"/>
<rect x="757.1" y="581.4" width="4.6" height="4.6" rx="0.8" fill="#fff" stroke="#151515" stroke-width="1.6"/>
<rect x="766.5" y="581.4" width="4.6" height="4.6" rx="0.8" fill="#fff" stroke="#151515" stroke-width="1.6"/>
<rect x="776.2" y="581.4" width="4.6" height="4.6" rx="0.8" fill="#fff" stroke="#151515" stroke-width="1.6"/>
<circle cx="792.6" cy="583.7" r="4.2" fill="#fff" stroke="#151515" stroke-width="1.7"/>
<rect x="817" y="577" width="20" height="12" fill="#fff" stroke="#151515" stroke-width="1.8"/>
<circle cx="796" cy="641.7" r="33.6" fill="#fff" stroke="#151515" stroke-width="1.8"/>
<circle cx="796" cy="641.7" r="31" fill="none" stroke="#151515" stroke-width="1.5"/>
<path d="M806.5,492.9 L824,492.9 Q836.3,493.5 836.3,507 L836.3,537.3 L844.3,537.3 L831,556 L817.2,537.3 L825.2,537.3 L825.2,508 Q825,500 816,499 Q810,498 806.5,497.3 Q805.5,495 806.5,492.9 Z" fill="#151515"/>
<line x1="127.6" y1="290.5" x2="127.6" y2="308" stroke="#3a3a3a" stroke-width="1.1"/>
<line x1="127.6" y1="319.5" x2="127.6" y2="845" stroke="#444" stroke-width="1.2" stroke-dasharray="68.5,13,20,13.3"/>
<line x1="532.5" y1="206" x2="532.5" y2="290" stroke="#444" stroke-width="1.0"/>
<line x1="532.5" y1="292" x2="532.5" y2="307" stroke="#3a3a3a" stroke-width="1.1"/>
<line x1="532.5" y1="321" x2="532.5" y2="845" stroke="#444" stroke-width="1.2" stroke-dasharray="68.5,13,20,13.3" stroke-dashoffset="0"/>
<line x1="0" y1="495.6" x2="459" y2="495.6" stroke="#444" stroke-width="1.2" stroke-dasharray="29,19,97,19" stroke-dashoffset="62"/>
<line x1="476" y1="495.6" x2="575" y2="495.6" stroke="#3a3a3a" stroke-width="1.2"/>
<line x1="593.4" y1="495.6" x2="623.6" y2="495.6" stroke="#3a3a3a" stroke-width="1.2"/>
<line x1="642.5" y1="495.6" x2="726.6" y2="495.6" stroke="#3a3a3a" stroke-width="1.2"/>
<line x1="434" y1="622.8" x2="660" y2="622.8" stroke="#666" stroke-width="1.1" stroke-dasharray="38,10,14,10"/>
<line x1="514" y1="398.4" x2="660" y2="398.4" stroke="#777" stroke-width="1.1" stroke-dasharray="21,6,11,6"/>
<rect x="617.41" y="320.57" width="9.21" height="4.03" fill="#fff"/>
<rect x="621.50" y="320.27" width="1.80" height="3.03" fill="#111"/>
<rect x="310.86" y="423.87" width="11.15" height="4.33" fill="#fff"/>
<rect x="315.81" y="423.57" width="2.19" height="3.33" fill="#111"/>
<rect x="330.04" y="423.87" width="11.15" height="4.33" fill="#fff"/>
<rect x="334.99" y="423.57" width="2.19" height="3.33" fill="#111"/>
<rect x="703.36" y="440.57" width="11.15" height="4.33" fill="#fff"/>
<rect x="708.30" y="440.27" width="2.19" height="3.33" fill="#111"/>
<rect x="722.54" y="440.57" width="11.15" height="4.33" fill="#fff"/>
<rect x="727.49" y="440.27" width="2.19" height="3.33" fill="#111"/>
<rect x="632.09" y="714.27" width="11.15" height="4.33" fill="#fff"/>
<rect x="637.03" y="713.97" width="2.19" height="3.33" fill="#111"/>
<rect x="652.53" y="714.27" width="11.15" height="4.33" fill="#fff"/>
<rect x="657.48" y="713.97" width="2.19" height="3.33" fill="#111"/>
<rect x="259.72" y="822.90" width="11.64" height="4.40" fill="#fff"/>
<rect x="264.88" y="822.60" width="2.28" height="3.40" fill="#111"/>
<rect x="271.28" y="822.90" width="11.64" height="4.40" fill="#fff"/>
<rect x="276.44" y="822.60" width="2.28" height="3.40" fill="#111"/>
</svg></body></html>
